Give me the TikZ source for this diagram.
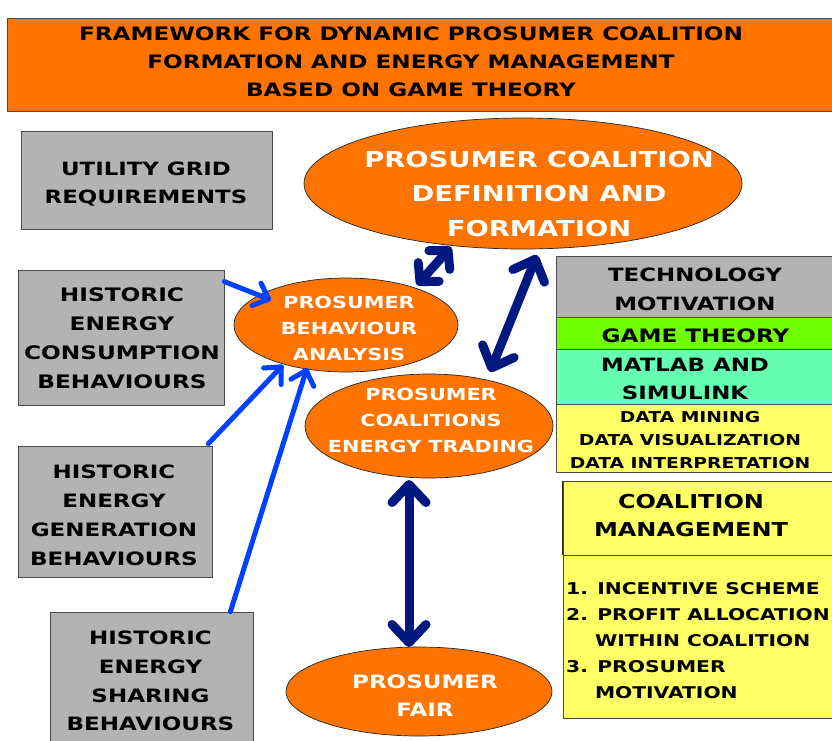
\documentclass[tikz,border=0pt]{standalone}
\usepackage{fontspec}
\newfontfamily\vf[FakeStretch=1.25]{DejaVu Sans}
\usetikzlibrary{shapes.geometric,arrows.meta,calc}
\definecolor{orng}{RGB}{255,115,0}
\definecolor{gry}{RGB}{179,179,179}
\definecolor{gtgreen}{RGB}{112,255,0}
\definecolor{aqua}{RGB}{102,255,178}
\definecolor{ylw}{RGB}{255,255,102}
\definecolor{bluearr}{RGB}{0,64,255}
\definecolor{navyarr}{RGB}{0,25,128}
\newcommand{\fsz}[2]{\vf\bfseries\fontsize{#1}{#2}\selectfont}
\begin{document}
\begin{tikzpicture}[x=1pt,y=-1pt,
  box/.style={draw=black!70, line width=0.8pt, rectangle, inner sep=0pt},
  ell/.style={ellipse, draw=black!85, line width=0.7pt, fill=orng, inner sep=0pt},
  wtxt/.style={text=white, align=center, inner sep=0pt},
  btxt/.style={text=black, align=center, inner sep=0pt},
  bluearrow/.style={draw=bluearr, line width=5pt, line cap=round,
    -{Straight Barb[length=13pt,width=24pt,round]}},
  navyarrow/.style={draw=navyarr, line width=9pt,
    {Straight Barb[length=18pt,width=34pt,round]}-{Straight Barb[length=18pt,width=34pt,round]}},
  shortnavy/.style={draw=navyarr, line width=9pt,
    {Straight Barb[length=13pt,width=28pt,round]}-{Straight Barb[length=13pt,width=28pt,round]}}
]
\useasboundingbox (0,0) rectangle (832,740);
\clip (0,0) rectangle (832,740);
\fill[white] (0,0) rectangle (832,740);

% title
\node[box, fill=orng, minimum width=838pt, minimum height=93pt] (titlebox) at (426,64.5) {};
\node[btxt, font=\fsz{18.5}{28}] (title) at (411,62)
  {FRAMEWORK FOR DYNAMIC PROSUMER COALITION\\FORMATION AND ENERGY MANAGEMENT\\BASED ON GAME THEORY};

% left grey boxes
\node[box, fill=gry, minimum width=251pt, minimum height=98pt] (util) at (146.5,180) {};
\node[btxt, font=\fsz{18.3}{28}] (utiltxt) at (146,184) {UTILITY GRID\\REQUIREMENTS};
\node[box, fill=gry, minimum width=206pt, minimum height=135pt] (cons) at (121,337.5) {};
\node[btxt, font=\fsz{18.6}{29}] (constxt) at (122,338) {HISTORIC\\ENERGY\\CONSUMPTION\\BEHAVIOURS};
\node[box, fill=gry, minimum width=194pt, minimum height=131pt] (gen) at (115,511.5) {};
\node[btxt, font=\fsz{18.4}{29}] (gentxt) at (114,515) {HISTORIC\\ENERGY\\GENERATION\\BEHAVIOURS};
\node[box, fill=gry, minimum width=203pt, minimum height=134pt] (share) at (151.5,679) {};
\node[btxt, font=\fsz{18.4}{28.7}] (sharetxt) at (150.5,681) {HISTORIC\\ENERGY\\SHARING\\BEHAVIOURS};

% ellipses
\node[ell, minimum width=438pt, minimum height=131pt] (coal) at (523,183.5) {};
\node[wtxt, font=\fsz{21.9}{34.5}] (coaltxt) at (539,194) {PROSUMER COALITION\\DEFINITION AND\\FORMATION};
\node[ell, minimum width=224pt, minimum height=94pt] (beh) at (346,325) {};
\node[wtxt, font=\fsz{16.6}{26}] (behtxt) at (349,328) {PROSUMER\\BEHAVIOUR\\ANALYSIS};
\node[ell, minimum width=248pt, minimum height=104pt] (trade) at (429,426) {};
\node[wtxt, font=\fsz{16.6}{26}] (tradetxt) at (431,420) {PROSUMER\\COALITIONS\\ENERGY TRADING};
\node[ell, minimum width=266pt, minimum height=89pt] (fair) at (419,691.5) {};
\node[wtxt, font=\fsz{18.4}{28}] (fairtxt) at (425,695.5) {PROSUMER\\FAIR};

% technology panel
\node[box, fill=gry, minimum width=276pt, minimum height=61pt] (tech) at (694,286.5) {};
\node[btxt, font=\fsz{18.3}{29}] (techtxt) at (695,289.5) {TECHNOLOGY\\MOTIVATION};
\node[box, fill=gtgreen, minimum width=276pt, minimum height=32pt] (game) at (694,333) {};
\node[btxt, font=\fsz{18.5}{28}] (gametxt) at (695.5,336) {GAME THEORY};
\node[box, fill=aqua, minimum width=276pt, minimum height=55pt] (matlab) at (694,376.5) {};
\node[btxt, font=\fsz{18.3}{28}] (matlabtxt) at (685,379) {MATLAB AND\\SIMULINK};
\node[box, fill=ylw, minimum width=276pt, minimum height=68pt] (data) at (694,438) {};
\node[btxt, font=\fsz{15}{23}] (datatxt) at (690,440.5) {DATA MINING\\DATA VISUALIZATION\\DATA INTERPRETATION};

% coalition management
\node[box, fill=ylw, minimum width=269pt, minimum height=74pt] (cmhead) at (697.5,518) {};
\node[btxt, font=\fsz{19.2}{28}] (cmheadtxt) at (691,515) {COALITION\\MANAGEMENT};
\draw[black!85, line width=1.6pt] (cmhead.north west) -- (cmhead.south west);
\node[box, fill=ylw, minimum width=269pt, minimum height=163pt] (cmlist) at (697.5,636.5) {};
\node[btxt, align=left, anchor=west, font=\fsz{16.2}{26}] (cmlisttxt) at (566,640.5)
  {1. INCENTIVE SCHEME\\2. PROFIT ALLOCATION\\\phantom{2.~}WITHIN COALITION\\3. PROSUMER\\\phantom{2.~}MOTIVATION};

% blue arrows
\draw[bluearrow] ([yshift=-12pt]cons.north east) -- ($(beh.center)+(-75,-25)$);
\draw[bluearrow] ([xshift=-4pt,yshift=2pt]gen.north east) -- ($(beh.center)+(-63,40)$);
\draw[bluearrow] ([xshift=-23pt]share.north east) -- ($(beh.center)+(-39,43)$);

% navy double arrows
\draw[shortnavy] ($(beh.center)+(71,-40)$) -- ($(coal.center)+(-72,63.5)$);
\draw[navyarrow] ($(trade.center)+(61,-54)$) -- ($(coal.center)+(14,71.5)$);
\draw[navyarrow] ($(trade.center)+(-20,54)$) -- ($(fair.center)+(-10,-44.5)$);
\end{tikzpicture}
\end{document}
